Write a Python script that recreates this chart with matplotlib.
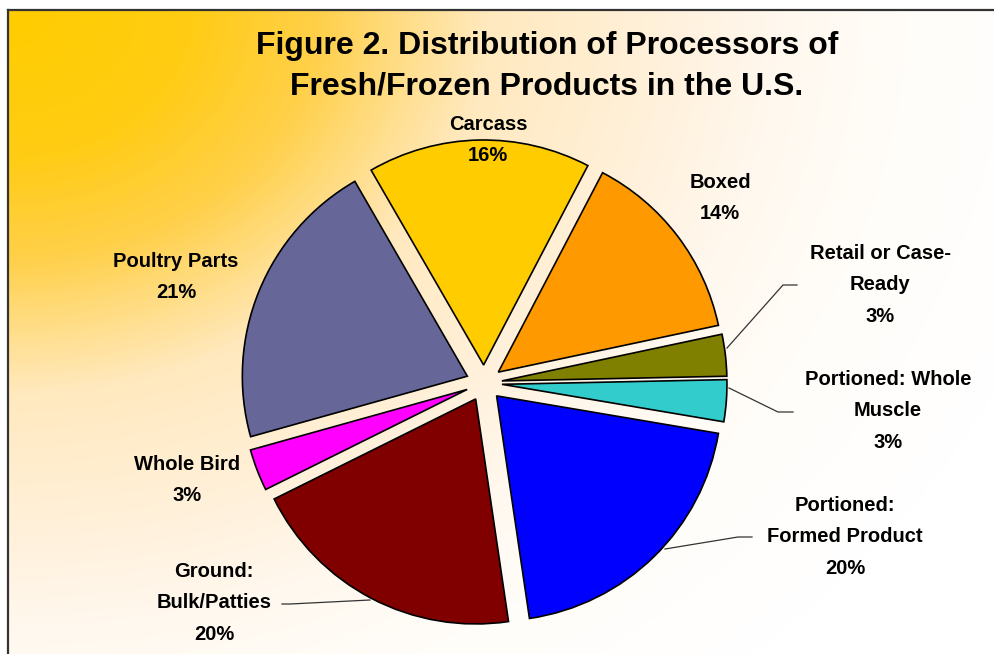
import numpy as np
import matplotlib
matplotlib.use("Agg")
import matplotlib.pyplot as plt
from matplotlib.colors import LinearSegmentedColormap

plt.rcParams['font.family'] = ['Liberation Sans', 'DejaVu Sans']

# ---- data ----
categories = ["Carcass", "Boxed", "Retail or Case-\nReady", "Portioned: Whole\nMuscle",
              "Portioned:\nFormed Product", "Ground:\nBulk/Patties", "Whole Bird", "Poultry Parts"]
values = [16, 14, 3, 3, 20, 20, 3, 21]
colors = ["#FFCC00", "#FF9900", "#808000", "#33CCCC", "#0000FF", "#800000", "#FF00FF", "#666699"]
title = "Figure 2. Distribution of Processors of\nFresh/Frozen Products in the U.S."

W, H = 995, 654
fig = plt.figure(figsize=(W / 100, H / 100), dpi=100)
ax = fig.add_axes([0, 0, 1, 1])

# ---- background gradient (pixel space, y down) ----
yy, xx = np.mgrid[0:H, 0:W]
d = np.sqrt((xx - 8.0) ** 2 + (1.25 * (yy - 10.0)) ** 2)
stops = [(0, "#FFCC00"), (180, "#FFCC14"), (310, "#FFD04A"), (400, "#FFDE8A"),
         (480, "#FFE9BF"), (680, "#FFF2DF"), (770, "#FFF8EE"), (900, "#FFFDF9"), (1100, "#FFFFFF")]
cmap = LinearSegmentedColormap.from_list("bg", [(s / 1100, c) for s, c in stops])
img = cmap(np.clip(d / 1100, 0, 1))
img[:10, :, :3] = 1.0
img[:, :8, :3] = 1.0
ax.imshow(img, extent=(0, W, 0, H), origin='upper', zorder=0, interpolation='bilinear')

# frame lines (left and top)
ax.plot([8, 8], [0, H - 10], color="#333333", lw=1.6, zorder=1, solid_capstyle='projecting')
ax.plot([8, W], [H - 10, H - 10], color="#333333", lw=1.6, zorder=1, solid_capstyle='projecting')

# ---- pie ----
cx, cy, r = 484, H - 383, 225
wedges, _ = ax.pie(values, colors=colors, startangle=120, counterclock=False,
                   explode=[18] * len(values), center=(cx, cy), radius=r,
                   wedgeprops=dict(edgecolor="black", linewidth=1.2), frame=True)
ax.set_xlim(0, W)
ax.set_ylim(0, H)
ax.set_aspect('equal')
ax.axis('off')

# ---- labels ----
label_pos = [(488, 140), (720, 198), (880, 285), (888, 411),
             (845, 537), (214, 603), (187, 480), (176, 277)]
for cat, v, (lx, ly) in zip(categories, values, label_pos):
    ax.text(lx, H - ly, f"{cat}\n{v}%", ha='center', va='center', fontsize=14.5,
            fontweight='bold', linespacing=1.85, zorder=5)

# leader lines
leaders = [
    [(727, 348), (783, 285), (797, 285)],
    [(729, 388), (778, 412), (793, 412)],
    [(665, 549), (738, 537), (752, 537)],
    [(370, 600), (290, 604), (282, 604)],
]
for pts in leaders:
    xs = [p[0] for p in pts]
    ys = [H - p[1] for p in pts]
    ax.plot(xs, ys, color="#333333", lw=0.9, zorder=4)

# ---- title ----
ax.text(547, H - 66, title, ha='center', va='center', fontsize=23,
        fontweight='bold', linespacing=1.47, zorder=5)

fig.savefig("out.png", dpi=100)
